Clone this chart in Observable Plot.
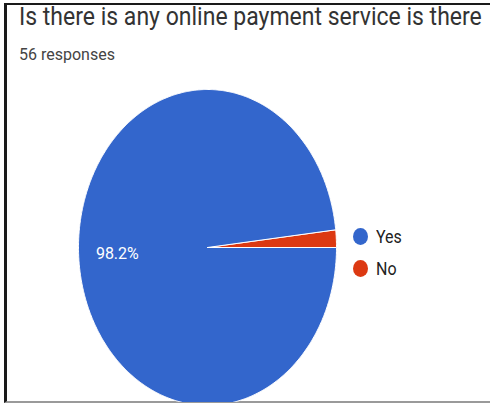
<!DOCTYPE html>
<html><head><meta charset="utf-8">
<script src="https://cdn.jsdelivr.net/npm/d3@7"></script>
<script src="https://cdn.jsdelivr.net/npm/@observablehq/plot@0.6"></script>
<style>
body{margin:0;width:490px;height:404px;overflow:hidden;background:#fff;font-family:Roboto,sans-serif;position:relative}
#frame{position:absolute;left:4px;top:3px;width:500px;height:396px;border-left:3px solid #1a1a1a;border-top:2px solid #1a1a1a;border-bottom:2px solid #9a9a9a}
#title{position:absolute;left:19px;top:2px;font-size:23px;color:#333;white-space:nowrap;transform-origin:0 0;transform:scaleY(1.1)}
#sub{position:absolute;left:19px;top:45px;font-size:16px;color:#444;white-space:nowrap}
#chart{position:absolute;left:0;top:70px;width:490px;height:332px;overflow:hidden}
#legend{position:absolute;left:353px;top:227px;font-size:16px;color:#222}
.item{display:flex;align-items:center;height:19px;margin-bottom:13px}
.sw{width:15px;height:17px;border-radius:50%;margin-right:8px}
.lab{transform:scaleY(1.1)}
</style></head>
<body>
<div id="frame"></div>
<div id="title"></div>
<div id="sub"></div>
<div id="chart"></div>
<div id="legend"></div>
<script>
const title = "Is there is any online payment service is there";
const subtitle = "56 responses";
const categories = ["Yes", "No"];
const counts = [55, 1];
const colors = ["#3366cc", "#dc3912"];

document.getElementById("title").textContent = title;
document.getElementById("sub").textContent = subtitle;

const total = d3.sum(counts);
// slices drawn counter-clockwise from 3 o'clock, "No" first
const order = [1, 0];
const slices = [];
let a = 0;
for (const i of order) {
  const span = counts[i] / total * 2 * Math.PI;
  slices.push({cat: categories[i], value: counts[i], a0: a, a1: a + span});
  a += span;
}
const pts = [];
for (const s of slices) {
  const n = Math.max(2, Math.ceil((s.a1 - s.a0) / (Math.PI / 360)));
  pts.push({cat: s.cat, x: 0, y: 0});
  for (let k = 0; k <= n; k++) {
    const t = s.a0 + (s.a1 - s.a0) * k / n;
    pts.push({cat: s.cat, x: Math.cos(t), y: Math.sin(t)});
  }
  pts.push({cat: s.cat, x: 0, y: 0});
}
const labels = slices.filter(s => s.value / total > 0.05).map(s => {
  const m = (s.a0 + s.a1) / 2;
  return {x: 0.7 * Math.cos(m), y: 0.7 * Math.sin(m), text: (s.value / total * 100).toFixed(1) + "%"};
});

const plot = Plot.plot({
  width: 490,
  height: 332,
  margin: 0,
  x: {domain: [-1, 1], range: [78, 336], axis: null},
  y: {domain: [-1, 1], range: [335, 19], axis: null},
  color: {domain: categories, range: colors},
  marks: [
    Plot.line(pts, {x: "x", y: "y", z: "cat", fill: "cat", stroke: "white", strokeWidth: 1, curve: "linear"}),
    Plot.text(labels, {x: "x", y: "y", text: "text", fill: "white", fontSize: 16, fontFamily: "Roboto, sans-serif"})
  ]
});
document.getElementById("chart").appendChild(plot);

const lg = document.getElementById("legend");
categories.forEach((c, i) => {
  const it = document.createElement("div");
  it.className = "item";
  it.innerHTML = `<span class="sw" style="background:${colors[i]}"></span><span class="lab">${c}</span>`;
  lg.appendChild(it);
});
</script>
</body></html>
